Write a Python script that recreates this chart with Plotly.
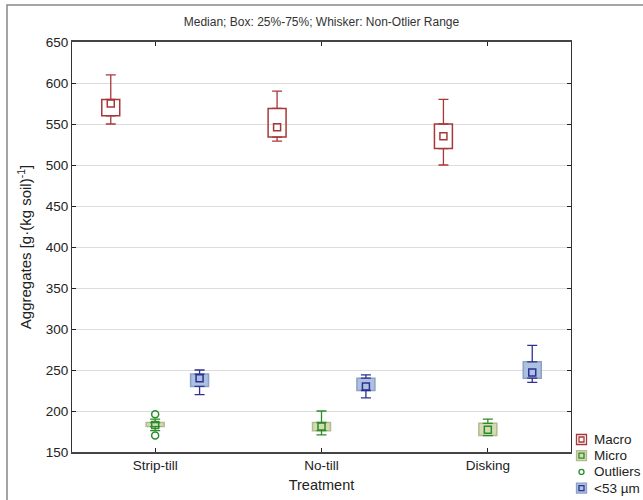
import plotly.graph_objects as go

# Treatments on the x axis
categories = ["Strip-till", "No-till", "Disking"]

# Box statistics per aggregate fraction, g·(kg soil)^-1
macro_lo = [550, 529, 500]
macro_q1 = [560, 534, 520]
macro_med = [575, 546, 535]
macro_q3 = [580, 569, 550]
macro_hi = [610, 590, 580]

micro_lo = [176, 171, 170]
micro_q1 = [181, 176, 170]
micro_med = [183, 181, 177]
micro_q3 = [186, 186, 185]
micro_hi = [190, 200, 190]

fine_lo = [220, 216, 235]
fine_q1 = [230, 225, 240]
fine_med = [240, 230, 247]
fine_q3 = [245, 240, 260]
fine_hi = [250, 244, 280]

# Outlying values (Strip-till, micro-aggregates)
outlier_cat = [0, 0]
outlier_val = [196, 170]

y_ticks = [150, 200, 250, 300, 350, 400, 450, 500, 550, 600, 650]

W, H = 643, 500
ML, MR, MT, MB = 72, 72, 42, 48
pw = W - ML - MR
ph = H - MT - MB


def px(x):
    return (x - ML) / pw


def py(y):
    return (H - MB - y) / ph


BOX_W = 0.108
OFFSET = 0.267

RED, GREEN, NAVY = "#a83838", "#2a8c2a", "#2e3192"

series = [
    dict(name="Macro", off=-OFFSET, lo=macro_lo, q1=macro_q1, med=macro_med, q3=macro_q3, hi=macro_hi,
         fill="rgba(255,255,255,0)", edge=RED, ink=RED),
    dict(name="Micro", off=0.0, lo=micro_lo, q1=micro_q1, med=micro_med, q3=micro_q3, hi=micro_hi,
         fill="#d5dbb3", edge="#b3ba90", ink=GREEN),
    dict(name="<53 µm", off=OFFSET, lo=fine_lo, q1=fine_q1, med=fine_med, q3=fine_q3, hi=fine_hi,
         fill="#adc2e0", edge="#8aa2c6", ink=NAVY),
]

fig = go.Figure()

for s in series:
    xs = [i + s["off"] for i in range(len(categories))]
    # box body from Q1 to Q3
    fig.add_trace(go.Bar(
        x=xs, base=s["q1"], y=[b - a for a, b in zip(s["q1"], s["q3"])],
        width=BOX_W, marker=dict(color=s["fill"], line=dict(color=s["edge"], width=1.5)),
        showlegend=False, hoverinfo="skip"))
    # upper whisker
    fig.add_trace(go.Scatter(
        x=xs, y=s["q3"], mode="markers", marker=dict(size=0.1, opacity=0),
        error_y=dict(type="data", symmetric=False,
                     array=[h - q for q, h in zip(s["q3"], s["hi"])],
                     arrayminus=[0] * len(xs), color=s["ink"], thickness=1.3, width=5),
        showlegend=False, hoverinfo="skip"))
    # lower whisker
    fig.add_trace(go.Scatter(
        x=xs, y=s["q1"], mode="markers", marker=dict(size=0.1, opacity=0),
        error_y=dict(type="data", symmetric=False,
                     array=[0] * len(xs),
                     arrayminus=[q - l for l, q in zip(s["lo"], s["q1"])],
                     color=s["ink"], thickness=1.3, width=5),
        showlegend=False, hoverinfo="skip"))
    # median marker
    fig.add_trace(go.Scatter(
        x=xs, y=s["med"], mode="markers",
        marker=dict(symbol="square-open", size=7, color=s["ink"], line=dict(width=1.5)),
        showlegend=False, hoverinfo="skip"))

fig.add_trace(go.Scatter(
    x=[c + series[1]["off"] for c in outlier_cat], y=outlier_val, mode="markers",
    marker=dict(symbol="circle-open", size=7, color=GREEN, line=dict(width=1.5)),
    showlegend=False, hoverinfo="skip"))

# Hand-built legend in the lower right corner (outside the plot area)
legend_items = [
    ("Macro", "box", "white", RED, RED),
    ("Micro", "box", "#d5dbb3", "#b3ba90", GREEN),
    ("Outliers", "dot", None, None, GREEN),
    ("<53 µm", "box", "#adc2e0", "#8aa2c6", NAVY),
]
LEG_X, LEG_Y0, LEG_DY = 581.5, 439.5, 16.2

shapes = [dict(type="rect", xref="paper", yref="paper",
               x0=px(7), x1=px(W + 10), y0=py(H + 10), y1=py(5),
               line=dict(color="#888888", width=1.5), fillcolor="rgba(0,0,0,0)",
               layer="below")]
annotations = []
for k, (name, kind, fill, edge, ink) in enumerate(legend_items):
    cy = LEG_Y0 + k * LEG_DY
    if kind == "box":
        shapes.append(dict(type="rect", xref="paper", yref="paper",
                           x0=px(LEG_X - 5), x1=px(LEG_X + 5), y0=py(cy + 5), y1=py(cy - 5),
                           line=dict(color=edge, width=1.3), fillcolor=fill))
        shapes.append(dict(type="rect", xref="paper", yref="paper",
                           x0=px(LEG_X - 2.5), x1=px(LEG_X + 2.5), y0=py(cy + 2.5), y1=py(cy - 2.5),
                           line=dict(color=ink, width=1.3), fillcolor="rgba(0,0,0,0)"))
    else:
        shapes.append(dict(type="circle", xref="paper", yref="paper",
                           x0=px(LEG_X - 2.5), x1=px(LEG_X + 2.5), y0=py(cy + 2.5), y1=py(cy - 2.5),
                           line=dict(color=ink, width=1.3), fillcolor="rgba(0,0,0,0)"))
    annotations.append(dict(text=name, xref="paper", yref="paper", x=px(592), y=py(cy),
                            xanchor="left", yanchor="middle", showarrow=False,
                            font=dict(size=13.5, color="#222222")))

fig.update_layout(
    width=W, height=H,
    margin=dict(l=ML, r=MR, t=MT, b=MB, pad=0, autoexpand=False),
    paper_bgcolor="white", plot_bgcolor="white",
    font=dict(family="Liberation Sans, Arial, sans-serif", size=14, color="#222222"),
    title=dict(text="Median; Box: 25%-75%; Whisker: Non-Otlier Range",
               x=0.5, xref="paper", xanchor="center", y=1 - 22 / H, yanchor="middle",
               font=dict(size=12, color="#333333")),
    barmode="overlay",
    showlegend=False,
    xaxis=dict(range=[-0.5, 2.5], tickmode="array", tickvals=list(range(len(categories))),
               ticktext=categories, ticks="inside", ticklen=4, tickcolor="#222",
               tickfont=dict(size=13.5),
               showgrid=False, zeroline=False, showline=True, linecolor="#444", linewidth=1.5,
               mirror="ticks",
               title=dict(text="Treatment", standoff=8, font=dict(size=14.5))),
    yaxis=dict(range=[150, 650], tickmode="array", tickvals=y_ticks,
               ticks="inside", ticklen=4, tickcolor="#222", tickfont=dict(size=13.5),
               showgrid=True, gridcolor="#dcdcdc", gridwidth=1.2, zeroline=False,
               showline=True, linecolor="#333", linewidth=1.2, mirror="ticks",
               title=dict(text="Aggregates [g·(kg soil)<sup>-1</sup>]", standoff=10,
                          font=dict(size=15))),
    shapes=shapes,
    annotations=annotations,
)

fig.write_html("out.html")
